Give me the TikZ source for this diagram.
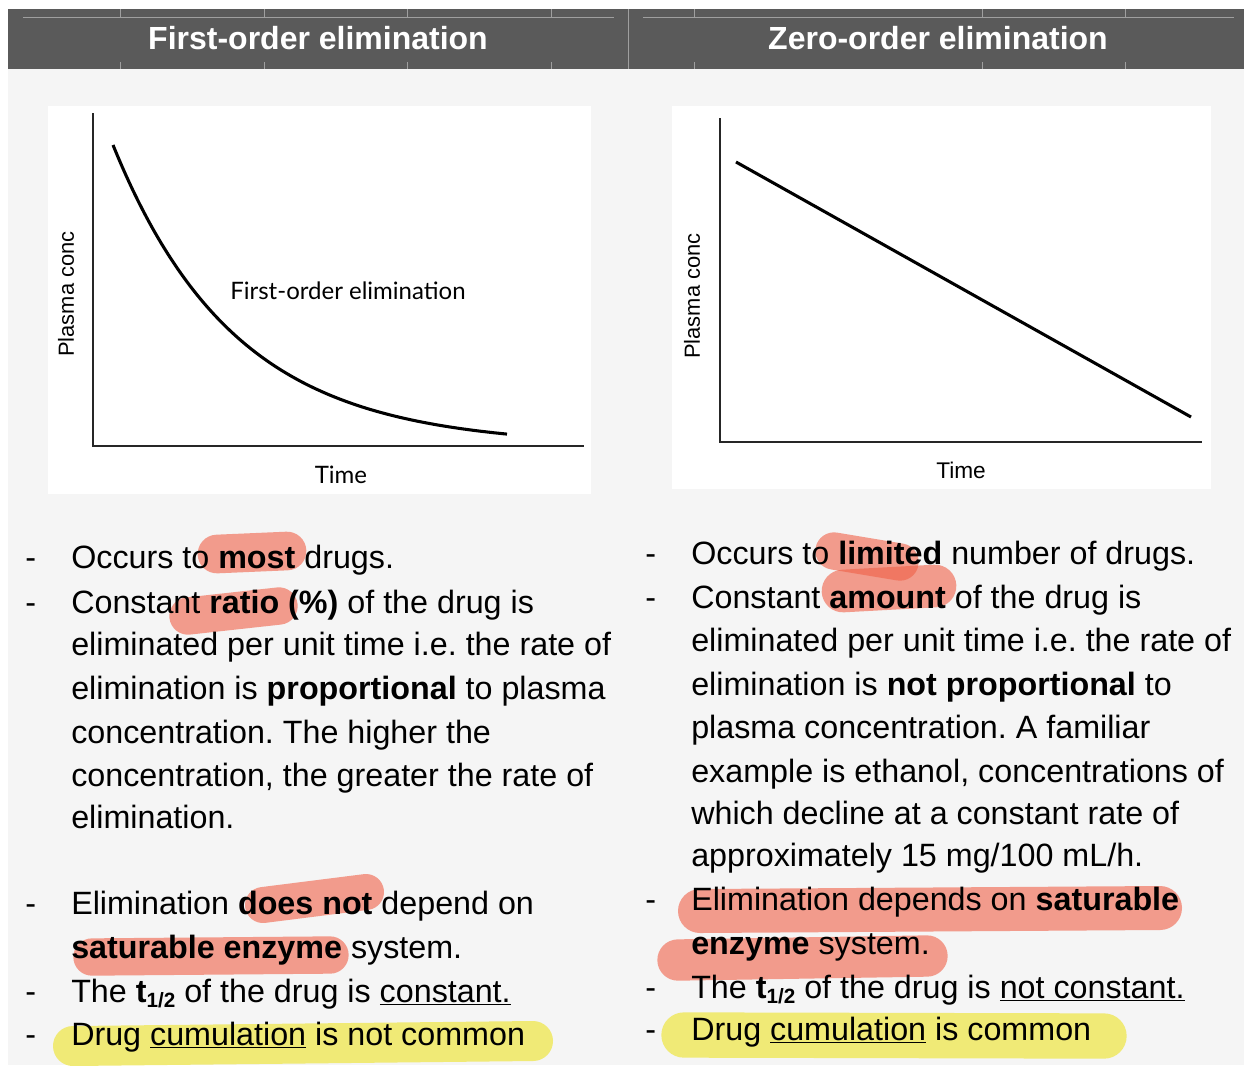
\documentclass[tikz,border=0pt]{standalone}
\usepackage{fontspec}
\setmainfont{Liberation Sans}
\newfontfamily\plotfont{Lato}

\definecolor{headgray}{RGB}{90,90,90}
\definecolor{panelgray}{RGB}{245,245,245}
\definecolor{hlsalmon}{RGB}{240,95,70}
\definecolor{hlyellow}{RGB}{240,234,118}

\newcommand{\halflife}{\textbf{t}\raisebox{-0.35ex}{\fontsize{15.5}{16}\selectfont\bfseries 1/2}}

\begin{document}
\begin{tikzpicture}[
    x=0.75pt, y=-0.75pt,
    bodytext/.style ={anchor=base west, inner sep=0pt, font=\fontsize{24.2}{29}\selectfont\frenchspacing},
    headtext/.style ={text=white, inner sep=0pt, font=\fontsize{24}{29}\selectfont\bfseries},
    axislabel/.style={inner sep=0pt, font=\fontsize{16.4}{20}\selectfont},
    plotlabel/.style={inner sep=0pt, font=\plotfont\fontsize{18}{22}\selectfont},
    axisline/.style ={line width=1.6pt, black!85},
    curveline/.style={line width=2.3pt, black},
    gridline/.style ={gray!75, line width=0.4pt},
    salmonmark/.style={line cap=round, draw=hlsalmon, opacity=0.6},
    yellowmark/.style={line cap=round, draw=hlyellow}
]

% ---------- page and panels ----------
\useasboundingbox (0,0) rectangle (1244,1065);
\fill[white] (0,0) rectangle (1244,1065);
\fill[panelgray] (8,69) rectangle (1244,1065);
\fill[headgray] (8,9) rectangle (1244,69);

% ---------- header table rules ----------
\draw[gridline] (23,17) -- (614,17);
\draw[gridline] (643,17) -- (1234,17);
\draw[gridline] (628,9) -- (628,69);
\foreach \tx in {120,264,407,551,694,982,1125} {
  \draw[gridline] (\tx,9) -- (\tx,17);
  \draw[gridline] (\tx,62) -- (\tx,69);
}

\node[headtext] (headL) at (318,38) {First-order elimination};
\node[headtext] (headR) at (938,38) {Zero-order elimination};

% ---------- first-order plot ----------
\fill[white] (48,106) rectangle (591,494);
\draw[axisline] (93,113) -- (93,446) -- (584,446);
\draw[curveline] plot[domain=113:507, samples=90, smooth] (\x,{446-301*exp(-0.0082*(\x-113))});
\node[axislabel, rotate=90] (concL) at (66,294) {Plasma conc};
\node[plotlabel] (timeL) at (341,475) {Time};
\node[plotlabel] (curveL) at (348,291) {First-order elimination};

% ---------- zero-order plot ----------
\fill[white] (672,106) rectangle (1211,489);
\draw[axisline] (720,118) -- (720,442) -- (1202,442);
\draw[curveline] (736,162) -- (1191,417);
\node[axislabel, rotate=90] (concR) at (692,296) {Plasma conc};
\node[axislabel, font=\fontsize{17}{20}\selectfont] (timeR) at (961,470) {Time};

% ---------- highlighter strokes ----------
\draw[salmonmark, line width=29pt] (217,554) -- (287,551);
\draw[salmonmark, line width=28pt] (188,616) -- (279,606);
\draw[salmonmark, line width=27pt] (263,905) -- (366,892);
\draw[salmonmark, line width=28pt] (92,957) -- (330,955);
\draw[yellowmark, line width=30pt] (73,1046) -- (533,1041);

\draw[salmonmark, line width=28pt] (834,551) -- (900,562);
\draw[salmonmark, line width=32pt] (843,591) -- (935,586);
\draw[salmonmark, line width=33pt] (700,911) -- (1160,908);
\draw[salmonmark, line width=31pt] (678,960) -- (927,956);
\draw[yellowmark, line width=34pt] (684,1035) -- (1104,1036);

% ---------- first-order notes ----------
\node[bodytext] (dL1) at (25,568) {-};
\node[bodytext] (dL2) at (25,613) {-};
\node[bodytext] (dL3) at (25,914) {-};
\node[bodytext] (dL4) at (25,1002) {-};
\node[bodytext] (dL5) at (25,1045) {-};

\node[bodytext] (l1) at (71,568) {Occurs to \textbf{most} drugs.};
\node[bodytext] (l2) at (71,613) {Constant \textbf{ratio (\%)} of the drug is};
\node[bodytext] (l3) at (71,655) {eliminated per unit time i.e. the rate of};
\node[bodytext] (l4) at (71,699) {elimination is \textbf{proportional} to plasma};
\node[bodytext] (l5) at (71,743) {concentration. The higher the};
\node[bodytext] (l6) at (71,786) {concentration, the greater the rate of};
\node[bodytext] (l7) at (71,828) {elimination.};
\node[bodytext] (l8) at (71,914) {Elimination \textbf{does not} depend on};
\node[bodytext] (l9) at (71,958) {\textbf{saturable enzyme} system.};
\node[bodytext] (l10) at (71,1002) {The \halflife{} of the drug is \underline{constant.}};
\node[bodytext] (l11) at (71,1045) {Drug \underline{cumulation} is not common};

% ---------- zero-order notes ----------
\node[bodytext] (dR1) at (645,564) {-};
\node[bodytext] (dR2) at (645,608) {-};
\node[bodytext] (dR3) at (645,910) {-};
\node[bodytext] (dR4) at (645,998) {-};
\node[bodytext] (dR5) at (645,1040) {-};

\node[bodytext] (r1) at (691,564) {Occurs to \textbf{limited} number of drugs.};
\node[bodytext] (r2) at (691,608) {Constant \textbf{amount} of the drug is};
\node[bodytext] (r3) at (691,651) {eliminated per unit time i.e. the rate of};
\node[bodytext] (r4) at (691,695) {elimination is \textbf{not proportional} to};
\node[bodytext] (r5) at (691,738) {plasma concentration. A familiar};
\node[bodytext] (r6) at (691,782) {example is ethanol, concentrations of};
\node[bodytext] (r7) at (691,824) {which decline at a constant rate of};
\node[bodytext] (r8) at (691,866) {approximately 15 mg/100 mL/h.};
\node[bodytext] (r9) at (691,910) {Elimination depends on \textbf{saturable}};
\node[bodytext] (r10) at (691,954) {\textbf{enzyme} system.};
\node[bodytext] (r11) at (691,998) {The \halflife{} of the drug is \underline{not constant.}};
\node[bodytext] (r12) at (691,1040) {Drug \underline{cumulation} is common};

\end{tikzpicture}
\end{document}
